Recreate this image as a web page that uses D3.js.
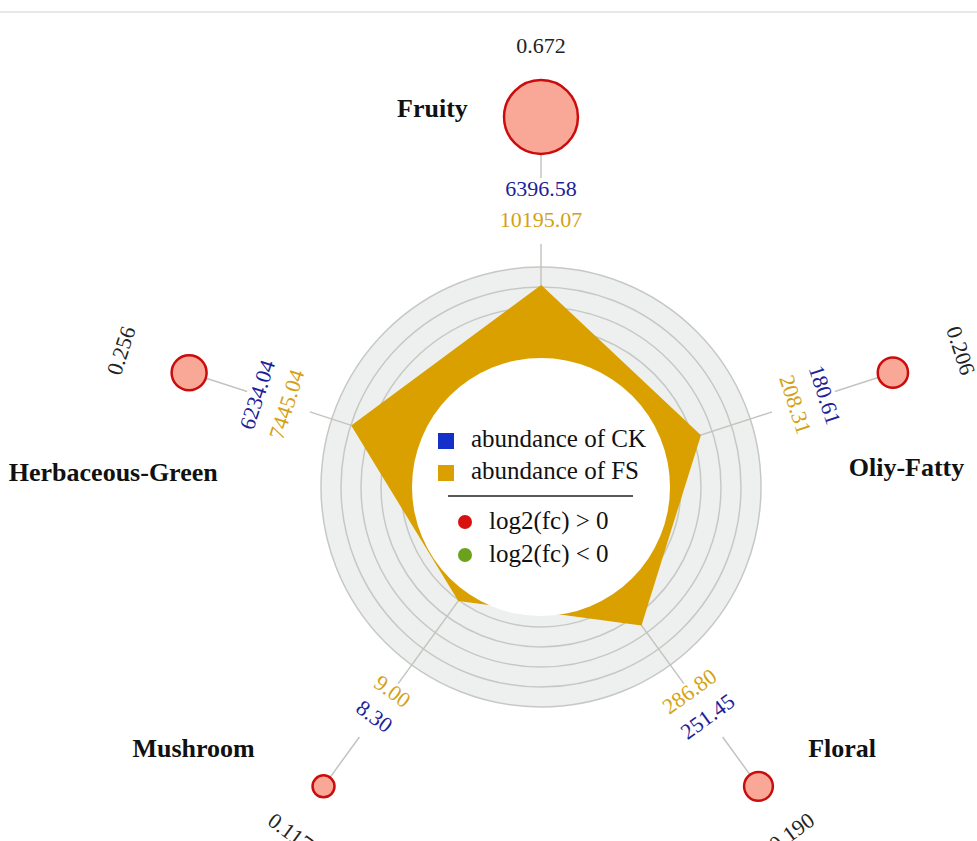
<!DOCTYPE html>
<html>
<head>
<meta charset="utf-8">
<script src="https://cdn.jsdelivr.net/npm/d3@7/dist/d3.min.js"></script>
<style>
  html, body { margin: 0; padding: 0; background: #fff; }
  svg { display: block; }
  text { font-family: "Liberation Serif", "Times New Roman", serif; }
</style>
</head>
<body>
<svg id="chart" width="977" height="841"></svg>
<script>
// Aroma categories, clockwise from the top
const categories = ["Fruity", "Oliy-Fatty", "Floral", "Mushroom", "Herbaceous-Green"];
// Abundance per category
const ckValues = [6396.58, 180.61, 251.45, 8.30, 6234.04];
const fsValues = [10195.07, 208.31, 286.80, 9.00, 7445.04];
// log2 fold change (FS vs CK)
const log2fc = [0.672, 0.206, 0.190, 0.117, 0.256];
// Grid rings on the log abundance scale
const ringTicks = [10, 100, 1000, 10000, 100000];
// Legend entries
const legendSwatches = ["abundance of CK", "abundance of FS"];
const legendDots = ["log2(fc) > 0", "log2(fc) < 0"];

// ---- layout ----
const W = 977, H = 841;
const cx = 541, cy = 487;
const holeR = 129;          // white legend disc
const bubbleDist = 370;     // distance of the fold-change bubbles
const fsLabelDist = 260, ckLabelDist = 291, fcLabelDist = 434;
const gapIn = 243, gapOut = 309;  // axis line break around the value labels
const catLabelR = [394, 366, 399, 435, 428];
const catLabelDA = [-16, 15, -13, 17, -16];

const colors = {
  ck: "#1430c8", ckText: "#1c2299",
  fs: "#d9a000", fsText: "#d4a114",
  band: "#eef0ef", ring: "#c6c9c3", axis: "#c4c4bf",
  up: "#cc0c0c", upFill: "#f9a898", down: "#6aa21e"
};

const svg = d3.select("#chart");

// separator line across the top
svg.append("line").attr("x1", 0).attr("x2", W).attr("y1", 12).attr("y2", 12)
  .attr("stroke", "#d2d2d2").attr("stroke-width", 1);

const g = svg.append("g").attr("transform", `translate(${cx},${cy})`);

const rScale = d3.scaleLog().domain([1, 100000]).range([120, 220]);
const sizeScale = d3.scaleLinear().domain([0, 1]).range([5.5, 52.3]);
const angle = d3.scalePoint().domain(categories).range([0, 360 * (categories.length - 1) / categories.length]);

const rad = a => a * Math.PI / 180;
const px = (a, d) => d * Math.sin(rad(a));
const py = (a, d) => -d * Math.cos(rad(a));
const textRot = a => { let n = ((a + 180) % 360 + 360) % 360 - 180; return Math.abs(n) > 90 ? n + (n > 0 ? -180 : 180) : n; };

// grey band and rings
g.append("circle").attr("r", rScale(ringTicks[ringTicks.length - 1])).attr("fill", colors.band);
g.selectAll("circle.ring").data(ringTicks).join("circle")
  .attr("class", "ring").attr("r", d => rScale(d))
  .attr("fill", "none").attr("stroke", colors.ring).attr("stroke-width", 1.5);

// axis spokes, broken around the value labels
const spokes = g.selectAll("g.spoke").data(categories).join("g").attr("class", "spoke");
spokes.append("line")
  .attr("x1", 0).attr("y1", 0)
  .attr("x2", d => px(angle(d), gapIn)).attr("y2", d => py(angle(d), gapIn));
spokes.append("line")
  .attr("x1", d => px(angle(d), gapOut)).attr("y1", d => py(angle(d), gapOut))
  .attr("x2", d => px(angle(d), bubbleDist)).attr("y2", d => py(angle(d), bubbleDist));
spokes.selectAll("line").attr("stroke", colors.axis).attr("stroke-width", 1.5);

// abundance polygons (CK under FS)
const radial = d3.lineRadial().curve(d3.curveLinearClosed);
function polygon(values, color) {
  g.append("path")
    .datum(values.map((v, i) => [rad(angle(categories[i])), rScale(v)]))
    .attr("d", radial)
    .attr("fill", color).attr("stroke", color).attr("stroke-width", 3)
    .attr("stroke-linejoin", "miter");
}
polygon(ckValues, colors.ck);
polygon(fsValues, colors.fs);

// white legend disc
g.append("circle").attr("r", holeR).attr("fill", "#fff");

// value labels
function valueLabels(values, dist, fill, fmt) {
  g.selectAll(null).data(values).join("text")
    .attr("transform", (v, i) => {
      const a = angle(categories[i]);
      return `translate(${px(a, dist)},${py(a, dist)}) rotate(${textRot(a)})`;
    })
    .attr("text-anchor", "middle")
    .attr("font-size", 22)
    .attr("fill", fill)
    .text(fmt);
}
valueLabels(fsValues, fsLabelDist, colors.fsText, d3.format(".2f"));
valueLabels(ckValues, ckLabelDist, colors.ckText, d3.format(".2f"));
valueLabels(log2fc, fcLabelDist, "#222", d3.format(".3f"));

// fold-change bubbles
g.selectAll("circle.bubble").data(log2fc).join("circle")
  .attr("class", "bubble")
  .attr("cx", (v, i) => px(angle(categories[i]), bubbleDist))
  .attr("cy", (v, i) => py(angle(categories[i]), bubbleDist))
  .attr("r", v => sizeScale(Math.abs(v)))
  .attr("fill", v => v > 0 ? colors.upFill : "#b7d98c")
  .attr("stroke", v => v > 0 ? colors.up : colors.down)
  .attr("stroke-width", 2.5);

// category names
g.selectAll("text.cat").data(categories).join("text")
  .attr("class", "cat")
  .attr("x", (d, i) => px(angle(d) + catLabelDA[i], catLabelR[i]))
  .attr("y", (d, i) => py(angle(d) + catLabelDA[i], catLabelR[i]))
  .attr("text-anchor", "middle")
  .attr("dominant-baseline", "central")
  .attr("font-size", 26)
  .attr("font-weight", "bold")
  .attr("fill", "#111")
  .text(d => d);

// legend
const lg = svg.append("g");
lg.selectAll("rect").data(legendSwatches).join("rect")
  .attr("x", 438).attr("y", (d, i) => 433 + i * 32)
  .attr("width", 16).attr("height", 16)
  .attr("fill", (d, i) => i === 0 ? colors.ck : colors.fs);
lg.selectAll("text.sw").data(legendSwatches).join("text")
  .attr("class", "sw")
  .attr("x", 471).attr("y", (d, i) => 447 + i * 32)
  .attr("font-size", 25).attr("fill", "#111")
  .text(d => d);
lg.append("line").attr("x1", 448).attr("x2", 633).attr("y1", 496).attr("y2", 496)
  .attr("stroke", "#222").attr("stroke-width", 1.5);
lg.selectAll("circle").data(legendDots).join("circle")
  .attr("cx", 465).attr("cy", (d, i) => 522 + i * 33).attr("r", 7)
  .attr("fill", (d, i) => i === 0 ? "#d81010" : colors.down);
lg.selectAll("text.dot").data(legendDots).join("text")
  .attr("class", "dot")
  .attr("x", 489).attr("y", (d, i) => 529 + i * 33)
  .attr("font-size", 25).attr("fill", "#111")
  .text(d => d);
</script>
</body>
</html>
